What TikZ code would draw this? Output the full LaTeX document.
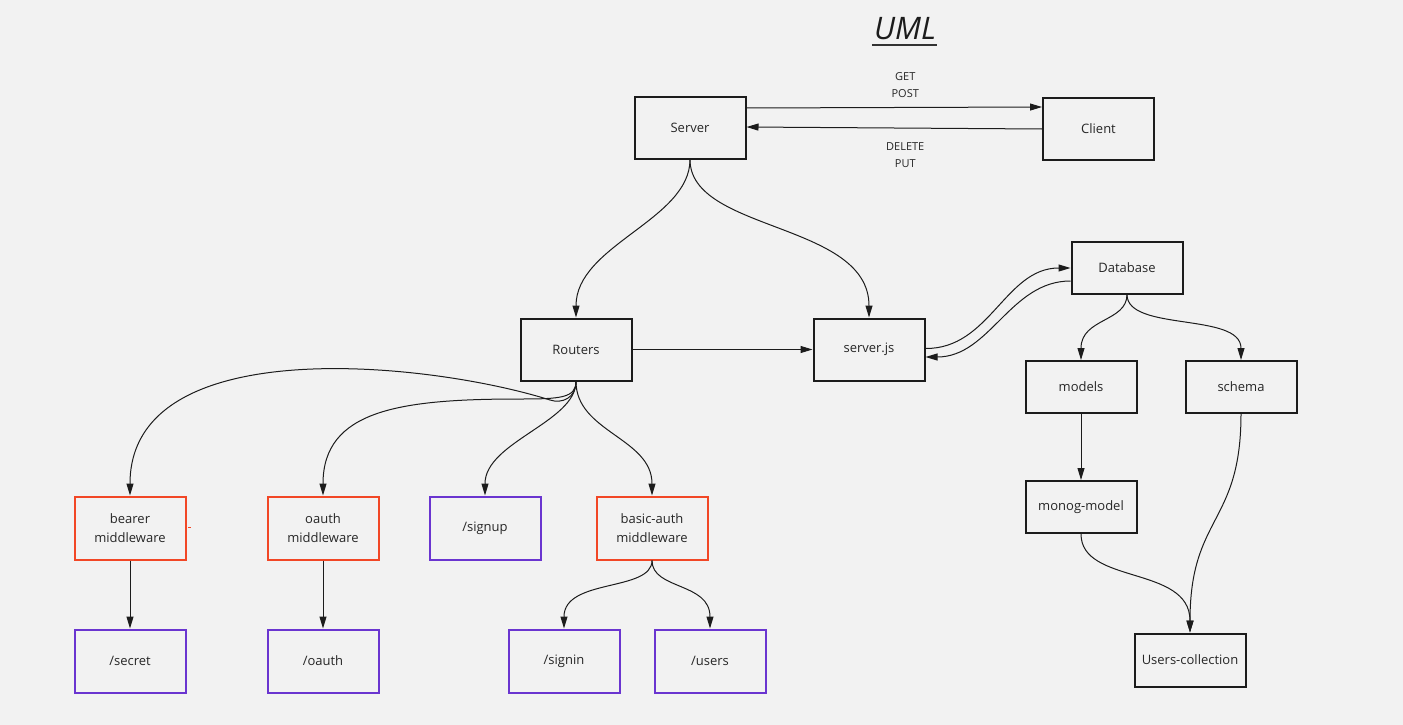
\documentclass[tikz,border=0pt]{standalone}
\usepackage{fontspec}
\setmainfont{Open Sans}
\usetikzlibrary{arrows.meta}
\definecolor{paper}{HTML}{F2F2F2}
\definecolor{ink}{HTML}{1C1C1C}
\definecolor{textgrey}{HTML}{262626}
\definecolor{authred}{HTML}{F24726}
\definecolor{routeviolet}{HTML}{6A35D0}
\begin{document}
\begin{tikzpicture}[x=1pt,y=-1pt,
  box/.style={draw=ink, line width=2pt, minimum width=111pt, minimum height=62pt,
    inner sep=0pt, align=center, text=textgrey,
    font=\fontsize{13}{19}\selectfont},
  lowbox/.style={box, minimum height=52pt},
  authbox/.style={box, draw=authred, minimum height=63pt},
  routebox/.style={box, draw=routeviolet, minimum height=63pt},
  conn/.style={draw=ink, line width=1pt, -{Triangle[length=12pt,width=7pt]}},
  verb/.style={font=\fontsize{11}{17}\selectfont, align=center, text=textgrey, inner sep=0pt}
]
% canvas
\fill[paper] (0,0) rectangle (1403,725);
\useasboundingbox (0,0) rectangle (1403,725);

% heading
\node[inner sep=0pt, text=ink, font=\fontsize{31}{31}\selectfont\itshape] (title) at (905,29) {UML};
\draw[ink!90, line width=2.2pt] ([xshift=-2pt,yshift=-5pt]title.base west) -- ([xshift=1pt,yshift=-5pt]title.base east);

% top tier
\node[box] (server) at (690,127.5) {Server};
\node[box] (client) at (1098.5,128.5) {Client};

% application tier
\node[box] (routers) at (576,349.5) {Routers};
\node[box] (serverjs) at (869,349.5) {server.js};

% storage tier
\node[lowbox] (database) at (1127,267.5) {Database};
\node[lowbox] (models) at (1081,387) {models};
\node[lowbox] (schema) at (1241,387) {schema};
\node[lowbox] (monog) at (1081,507) {monog-model};
\node[lowbox, minimum height=53pt] (users) at (1190,660) {Users-collection};

% middleware and routes
\node[authbox] (bearer) at (130,528) {bearer\\middleware};
\node[authbox] (oauthmw) at (323,528) {oauth\\middleware};
\node[routebox] (signup) at (485,528) {/signup};
\node[authbox] (basic) at (652,528) {basic-auth\\middleware};
\node[routebox] (secret) at (130,661) {/secret};
\node[routebox] (oauth) at (323,661) {/oauth};
\node[routebox] (signin) at (564,661) {/signin};
\node[routebox] (userroute) at (710,661) {/users};

% stray tick beside the bearer box
\coordinate (tickA) at (188,527);
\coordinate (tickB) at (191,527);
\draw[authred, line width=1pt] (tickA) -- (tickB);

% server <-> client requests
\draw[conn] ([yshift=19.5pt]server.east) -- node[verb, midway, xshift=11pt, yshift=22.5pt] (getpost) {GET\\POST} ([yshift=21.5pt]client.west);
\draw[conn] ([yshift=-0.5pt]client.west) -- node[verb, midway, xshift=11pt, yshift=-27.5pt] (delput) {DELETE\\PUT} ([yshift=0.5pt]server.east);

% server fan-out
\draw[conn] (server.south) .. controls (690,220) and (576,245) .. (routers.north);
\draw[conn] (server.south) .. controls (690,232) and (869,222) .. (serverjs.north);
\draw[conn] (routers.east) -- (serverjs.west);

% server.js <-> database
\draw[conn] ([yshift=1pt]serverjs.east) .. controls (990,349) and (1005,268) .. ([yshift=-0.5pt]database.west);
\draw[conn] ([yshift=-13.5pt]database.west) .. controls (1010,281) and (990,357) .. ([yshift=-7.5pt]serverjs.east);

% database internals
\draw[conn] (database.south) .. controls (1127,322) and (1081,318) .. (models.north);
\draw[conn] (database.south) .. controls (1127,332) and (1241,312) .. (schema.north);
\draw[conn] (models.south) -- (monog.north);
\draw[conn] (monog.south) .. controls (1081,585) and (1190,565) .. (users.north);
\draw[conn] (schema.south) .. controls (1241,525) and (1190,515) .. (users.north);

% router fan-out
\coordinate (bend1) at (550,400);
\coordinate (bend2) at (520,399);
\draw[conn] (routers.south) .. controls (576,398) and (562,404) .. (bend1)
  .. controls (430,362) and (130,330) .. (bearer.north);
\draw[conn] (routers.south) .. controls (576,398) and (560,399) .. (bend2)
  .. controls (400,399) and (323,410) .. (oauthmw.north);
\draw[conn] (routers.south) .. controls (576,422) and (485,442) .. (signup.north);
\draw[conn] (routers.south) .. controls (576,432) and (652,438) .. (basic.north);

% middleware to routes
\draw[conn] (bearer.south) -- (secret.north);
\draw[conn] (oauthmw.south) -- (oauth.north);
\draw[conn] (basic.south) .. controls (652,592) and (564,578) .. (signin.north);
\draw[conn] (basic.south) .. controls (652,590) and (710,582) .. (userroute.north);
\end{tikzpicture}
\end{document}
